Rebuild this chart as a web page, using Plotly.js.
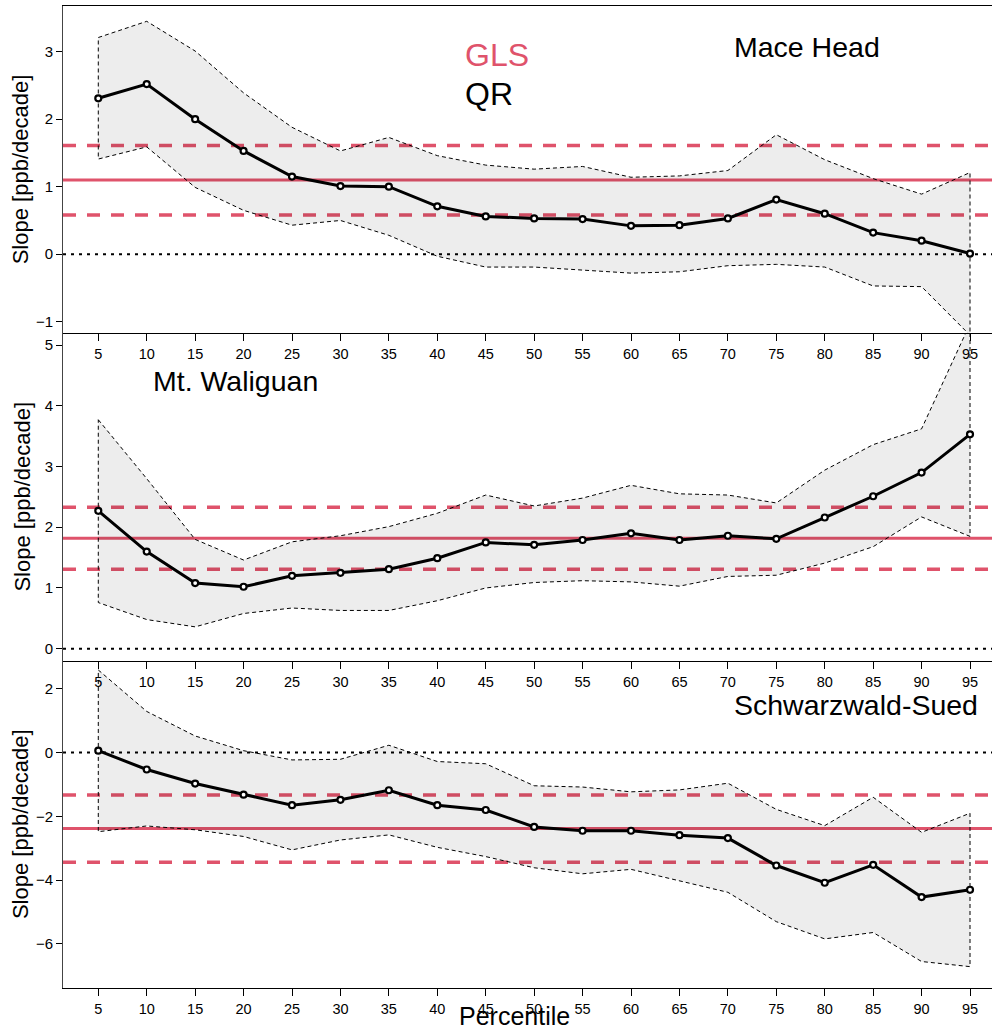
<!DOCTYPE html>
<html><head><meta charset="utf-8">
<script src="https://cdn.plot.ly/plotly-3.0.1.min.js"></script>
<style>html,body{margin:0;padding:0;background:#fff;overflow:hidden}</style>
</head><body><div id="chart" style="width:992px;height:1031px"></div>
<script>
// ---------------- data ----------------
const percentiles = [5,10,15,20,25,30,35,40,45,50,55,60,65,70,75,80,85,90,95];
const stations = ["Mace Head", "Mt. Waliguan", "Schwarzwald-Sued"];

// Mace Head – quantile regression slopes and confidence band
const qrMaceHead      = [2.31,2.52,2.00,1.53,1.15,1.01,1.00,0.71,0.56,0.53,0.52,0.42,0.43,0.53,0.81,0.60,0.32,0.20,0.01];
const qrUpperMaceHead = [3.21,3.45,3.01,2.39,1.88,1.53,1.73,1.46,1.32,1.26,1.30,1.14,1.16,1.24,1.77,1.40,1.12,0.89,1.21];
const qrLowerMaceHead = [1.41,1.59,0.99,0.65,0.43,0.50,0.28,-0.03,-0.19,-0.19,-0.24,-0.28,-0.26,-0.17,-0.15,-0.19,-0.47,-0.48,-1.20];

// Mt. Waliguan
const qrWaliguan      = [2.27,1.60,1.08,1.02,1.20,1.25,1.31,1.49,1.75,1.71,1.79,1.90,1.79,1.86,1.81,2.16,2.51,2.90,3.53];
const qrUpperWaliguan = [3.77,2.80,1.80,1.46,1.76,1.86,2.01,2.23,2.53,2.35,2.48,2.69,2.55,2.53,2.40,2.94,3.36,3.62,5.35];
const qrLowerWaliguan = [0.76,0.48,0.36,0.58,0.67,0.63,0.63,0.79,1.00,1.09,1.12,1.10,1.03,1.19,1.21,1.41,1.68,2.17,1.85];

// Schwarzwald-Sued
const qrSchwarzwald      = [0.06,-0.53,-0.97,-1.32,-1.65,-1.48,-1.18,-1.65,-1.80,-2.33,-2.45,-2.45,-2.59,-2.68,-3.54,-4.08,-3.52,-4.53,-4.30];
const qrUpperSchwarzwald = [2.59,1.29,0.52,0.06,-0.23,-0.21,0.23,-0.28,-0.35,-1.04,-1.08,-1.23,-1.17,-0.96,-1.78,-2.29,-1.40,-2.50,-1.90];
const qrLowerSchwarzwald = [-2.48,-2.30,-2.42,-2.63,-3.05,-2.74,-2.58,-2.97,-3.26,-3.61,-3.80,-3.66,-4.01,-4.38,-5.30,-5.84,-5.64,-6.55,-6.71];

// GLS trend per station (estimate and confidence bounds)
const glsSlope = [1.10, 1.82, -2.38];
const glsUpper = [1.61, 2.33, -1.33];
const glsLower = [0.58, 1.31, -3.44];

const tickLabels = percentiles.map(String);
const yTickVals = [[-1,0,1,2,3],[0,1,2,3,4,5],[-6,-4,-2,0,2]];

// ---------------- layout helpers ----------------
const W = 992, H = 1031;
const M = {l:63, r:0, t:6, b:43};
const px2x = p => (p - M.l) / (W - M.l - M.r);
const px2y = p => (H - M.b - p) / (H - M.t - M.b);

const RED = "#DF536B";
const FONT = "Liberation Sans, Arial, sans-serif";

const qr     = [qrMaceHead, qrWaliguan, qrSchwarzwald];
const qrUp   = [qrUpperMaceHead, qrUpperWaliguan, qrUpperSchwarzwald];
const qrLo   = [qrLowerMaceHead, qrLowerWaliguan, qrLowerSchwarzwald];
const yRanges = [[-1.167, 3.677], [-0.194, 5.198], [-7.38, 2.887]];
const domains = [[px2y(333), 1], [px2y(660.5), px2y(333)], [0, px2y(660.5)]];
const xRange = [1.356, 97.27];

const traces = [];
const shapes = [];
const layout = {
  width: W, height: H, margin: M,
  paper_bgcolor: "#fff", plot_bgcolor: "rgba(0,0,0,0)",
  showlegend: false,
  font: {family: FONT, color: "#000", size: 14},
  annotations: [],
};

for (let i = 0; i < 3; i++) {
  const sfx = i === 0 ? "" : String(i + 1);
  const xa = "x" + sfx, ya = "y" + sfx;

  // confidence band polygon (upper forward, lower backward, closed)
  const bx = percentiles.concat(percentiles.slice().reverse(), [percentiles[0]]);
  const by = qrUp[i].concat(qrLo[i].slice().reverse(), [qrUp[i][0]]);
  traces.push({
    type: "scatter", mode: "lines", x: bx, y: by, xaxis: xa, yaxis: ya,
    fill: "toself", fillcolor: "rgba(0,0,0,0.07)",
    line: {color: "#000", width: 1, dash: "4px,3px"}, hoverinfo: "skip"
  });
  // QR slopes
  traces.push({
    type: "scatter", mode: "lines+markers", x: percentiles, y: qr[i], xaxis: xa, yaxis: ya,
    line: {color: "#000", width: 3},
    marker: {symbol: "circle", size: 6, color: "#fff", line: {color: "#000", width: 2.2}},
    name: "QR " + stations[i]
  });

  // zero line and GLS lines
  const xdom = xa + " domain";
  shapes.push({type: "line", xref: xdom, yref: ya, x0: 0, x1: 1, y0: 0, y1: 0, layer: "below",
               line: {color: "#000", width: 2, dash: "3px,5px"}});
  shapes.push({type: "line", xref: xdom, yref: ya, x0: 0, x1: 1, y0: glsSlope[i], y1: glsSlope[i], layer: "below",
               line: {color: RED, width: 3}});
  [glsUpper[i], glsLower[i]].forEach(v => shapes.push({
    type: "line", xref: xdom, yref: ya, x0: 0, x1: 1, y0: v, y1: v, layer: "below",
    line: {color: RED, width: 3.5, dash: "13px,11px"}}));

  layout["xaxis" + sfx] = {
    anchor: ya, domain: [0, 1], range: xRange, tickmode: "array",
    tickvals: percentiles, ticktext: tickLabels, ticks: "outside", ticklen: 7, tickwidth: 1,
    tickcolor: "#000", showline: true, linecolor: "#000", linewidth: 1,
    mirror: i === 0 ? true : false, showgrid: false, zeroline: false,
    ticklabelstandoff: 1,
    tickfont: {family: FONT, size: 14.5, color: "#000"}
  };
  layout["yaxis" + sfx] = {
    anchor: xa, domain: domains[i], range: yRanges[i], tickmode: "array",
    tickvals: yTickVals[i], ticks: "outside", ticklen: 6, tickwidth: 1, tickcolor: "#000",
    showline: true, linecolor: "#444", linewidth: 1, showgrid: false, zeroline: false,
    tickfont: {family: FONT, size: 15, color: "#000"},
    title: {text: "Slope [ppb/decade]", font: {family: FONT, size: 22, color: "#000"},
            standoff: i === 1 ? 7 : 1}
  };
}

// x axis title, legend text and station names
layout.annotations.push(
  {text: "Percentile", xref: "paper", yref: "paper", x: px2x(514), y: px2y(1016), xanchor: "center", yanchor: "middle",
   showarrow: false, font: {family: FONT, size: 25, color: "#000"}},
  {text: "GLS", xref: "paper", yref: "paper", x: px2x(463), y: px2y(55), xanchor: "left", yanchor: "middle",
   showarrow: false, font: {family: FONT, size: 32, color: RED}},
  {text: "QR", xref: "paper", yref: "paper", x: px2x(463), y: px2y(94), xanchor: "left", yanchor: "middle",
   showarrow: false, font: {family: FONT, size: 32, color: "#000"}},
  {text: stations[0], xref: "paper", yref: "paper", x: px2x(806.5), y: px2y(47), xanchor: "center", yanchor: "middle",
   showarrow: false, font: {family: FONT, size: 28.5, color: "#000"}},
  {text: stations[1], xref: "paper", yref: "paper", x: px2x(235.5), y: px2y(381), xanchor: "center", yanchor: "middle",
   showarrow: false, font: {family: FONT, size: 28.5, color: "#000"}},
  {text: stations[2], xref: "paper", yref: "paper", x: px2x(856), y: px2y(705), xanchor: "center", yanchor: "middle",
   showarrow: false, font: {family: FONT, size: 28.5, color: "#000"}}
);
layout.shapes = shapes;

Plotly.newPlot("chart", traces, layout, {staticPlot: true, displayModeBar: false});
</script></body></html>
